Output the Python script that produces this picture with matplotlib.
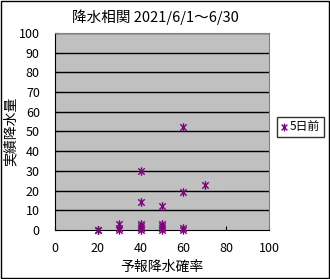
import matplotlib
matplotlib.use("Agg")
import matplotlib.pyplot as plt
from matplotlib.path import Path
from matplotlib.patches import Rectangle

plt.rcParams['font.family'] = ['Noto Sans CJK JP', 'DejaVu Sans']

# forecast probability (%) vs. observed precipitation (mm)
prob = [20, 20, 30, 30, 30, 40, 40, 40, 40, 40, 40,
        50, 50, 50, 50, 50, 60, 60, 60, 60, 70]
rain = [0, 0, 0, 1, 3, 0, 1, 2, 3, 14, 30,
        0, 1, 2, 3, 12, 0, 1, 19, 52, 23]

x_ticks = [0, 20, 40, 60, 80, 100]
y_ticks = list(range(0, 101, 10))

# excel style asterisk marker: vertical bar plus an X
star = Path([(0, -1), (0, 1), (-0.75, -0.75), (0.75, 0.75), (-0.75, 0.75), (0.75, -0.75)],
            [Path.MOVETO, Path.LINETO, Path.MOVETO, Path.LINETO, Path.MOVETO, Path.LINETO])

fig = plt.figure(figsize=(3.3, 2.79), dpi=100)
fig.patch.set_facecolor('white')
fig.patches.append(Rectangle((0.002, 0.002), 0.994, 0.993, transform=fig.transFigure,
                             fill=False, edgecolor='black', linewidth=1))

ax = fig.add_axes([0.167, 0.176, 0.648, 0.706])
ax.set_facecolor('#c0c0c0')
ax.set_xlim(0, 100)
ax.set_ylim(0, 100)
for y in y_ticks[1:]:
    ax.axhline(y, color='black', linewidth=1, zorder=1)

ax.scatter(prob, rain, marker=star, s=38, color='#800080', linewidths=1.0,
           zorder=3, label='5日前', clip_on=False)

ax.set_xticks(x_ticks)
ax.set_yticks(y_ticks)
ax.tick_params(axis='x', direction='in', length=3, labelsize=9, pad=9)
ax.tick_params(axis='y', direction='in', length=3, labelsize=9, pad=11)
ax.spines['top'].set_color('#808080')
ax.spines['right'].set_color('#808080')
ax.spines['left'].set_color('black')
ax.spines['bottom'].set_color('black')

ax.set_xlabel('予報降水確率', fontsize=10, labelpad=3)
ax.set_ylabel('実績降水量', fontsize=10, labelpad=1)
fig.text(0.47, 0.94, '降水相関 2021/6/1～6/30', fontsize=10.5, ha='center', va='center')

fig.legend(loc='center left', bbox_to_anchor=(0.822, 0.545), fontsize=8.5,
           frameon=True, fancybox=False, edgecolor='black', handlelength=0.6,
           handletextpad=0.2, borderpad=0.3, scatterpoints=1, markerscale=0.9)

fig.savefig('out.png', dpi=100)
